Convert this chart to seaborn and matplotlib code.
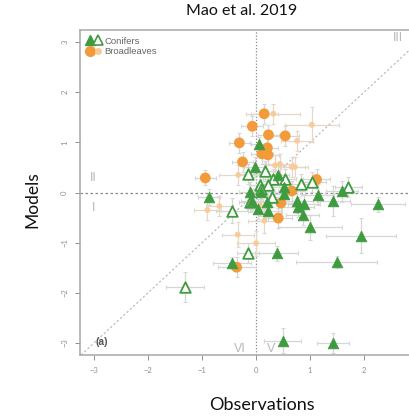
import matplotlib
matplotlib.use("Agg")
import matplotlib.pyplot as plt
import seaborn as sns
import numpy as np
import pandas as pd
from matplotlib.legend_handler import HandlerTuple
from matplotlib.lines import Line2D

# ---------------- data ----------------
con_f_x = [0.06, -0.02, -0.87, 1.14, 1.59, 1.43, 2.25, 0.86, 1.00, 1.94, 0.38, 1.49, -0.44, 0.49, 1.42,
           0.41, -0.11, 0.10, 0.51, 0.20, 0.75, 0.04, 0.23, 0.78, 0.89, 0.51, -0.08]
con_f_y = [0.96, 0.51, -0.09, -0.04, 0.02, -0.17, -0.23, -0.44, -0.69, -0.86, -1.21, -1.38, -1.41, -2.96, -3.00,
           0.34, 0.01, 0.01, -0.03, -0.19, -0.16, -0.33, -0.36, -0.29, -0.23, 0.11, -0.16]
con_f_xe = [0.15, 0.20, 0.20, 0.30, 0.30, 0.30, 0.50, 0.30, 0.60, 0.65, 0.40, 0.75, 0.35, 0.35, 0.30,
            0.20, 0.20, 0.25, 0.25, 0.20, 0.30, 0.20, 0.25, 0.30, 0.30, 0.25, 0.20]
con_f_ye = [0.15, 0.20, 0.15, 0.20, 0.20, 0.30, 0.15, 0.20, 0.25, 0.35, 0.15, 0.12, 0.12, 0.25, 0.20,
            0.20, 0.20, 0.20, 0.20, 0.20, 0.25, 0.20, 0.20, 0.20, 0.20, 0.20, 0.20]

con_o_x = [-0.15, 0.17, 0.83, 1.04, 1.71, 0.07, 0.32, -0.45, -0.15, -1.31, 0.54, 0.23, -0.11, 0.29, 0.10]
con_o_y = [0.37, 0.43, 0.17, 0.21, 0.11, 0.14, 0.27, -0.36, -1.21, -1.89, 0.27, 0.14, -0.19, -0.09, 0.07]
con_o_xe = [0.20, 0.20, 0.25, 0.25, 0.25, 0.20, 0.20, 0.30, 0.20, 0.35, 0.20, 0.20, 0.20, 0.20, 0.20]
con_o_ye = [0.20, 0.20, 0.20, 0.20, 0.20, 0.20, 0.20, 0.25, 0.20, 0.30, 0.20, 0.20, 0.20, 0.20, 0.20]

brd_b_x = [0.15, -0.07, 0.23, 0.54, -0.31, 0.21, 0.11, 0.22, -0.25, -0.94, 1.12, 0.66, 0.46, 0.41, -0.36]
brd_b_y = [1.57, 1.32, 1.15, 1.13, 0.99, 0.89, 0.77, 0.75, 0.61, 0.29, 0.26, 0.03, -0.21, -0.51, -1.49]
brd_b_xe = [0.25, 0.20, 0.20, 0.25, 0.20, 0.20, 0.20, 0.20, 0.20, 0.20, 0.25, 0.25, 0.20, 0.25, 0.35]
brd_b_ye = [0.20, 0.20, 0.20, 0.20, 0.20, 0.20, 0.20, 0.20, 0.20, 0.15, 0.20, 0.20, 0.20, 0.20, 0.20]

brd_s_x = [0.32, 1.03, 0.76, 0.44, 0.66, -0.33, -0.68, -0.90, 0.15, -0.34, 0.00, 0.07, 0.72, 0.35]
brd_s_y = [1.57, 1.35, 1.03, 0.57, 0.51, 0.35, -0.27, -0.35, -0.56, -0.84, -1.01, -0.26, 0.51, 0.54]
brd_s_xe = [0.50, 0.50, 0.30, 0.25, 0.25, 0.35, 0.25, 0.25, 0.30, 0.30, 0.35, 0.20, 0.25, 0.20]
brd_s_ye = [0.20, 0.35, 0.20, 0.20, 0.20, 0.20, 0.20, 0.20, 0.25, 0.25, 0.25, 0.20, 0.20, 0.20]

x_ticks = [-3, -2, -1, 0, 1, 2]
y_ticks = [-3, -2, -1, 0, 1, 2, 3]
quadrant_labels = ["II", "I", "VI", "V", "III"]
quadrant_pos = [(-3.01, 0.29), (-3.01, -0.31), (-0.30, -3.13), (0.27, -3.13), (2.62, 3.09)]

# ---------------- style ----------------
sns.set_theme(style="white")
plt.rcParams['font.family'] = ['Lato', 'DejaVu Sans']

GREEN = "#3f9b3f"
ORANGE = "#f39a3a"
LORANGE = "#f8c994"
EGRAY = "#d6d6d6"
AXGRAY = "#a8a8a8"

fig = plt.figure(figsize=(4.10, 4.16), dpi=100)
ax = fig.add_axes([80/410, 61/416, 1 - 80/410, (355 - 30)/416])
ax.set_xlim(-3.26, 2.85)
ax.set_ylim(-3.24, 3.24)

# reference lines
ax.plot([-3.3, 3.0], [-3.3, 3.0], ls=(0, (2, 2)), color="#b5b5b5", lw=0.8, zorder=1)
ax.axhline(0, ls=(0, (2, 2)), color="#8a8a8a", lw=0.9, zorder=1)
ax.axvline(0, ls=(0, (1, 1.5)), color="#8a8a8a", lw=0.9, zorder=1)

# error bars
for xs, ys, xe, ye, c in [(con_f_x, con_f_y, con_f_xe, con_f_ye, EGRAY),
                          (con_o_x, con_o_y, con_o_xe, con_o_ye, EGRAY),
                          (brd_b_x, brd_b_y, brd_b_xe, brd_b_ye, EGRAY),
                          (brd_s_x, brd_s_y, brd_s_xe, brd_s_ye, "#e6d8c8")]:
    ax.errorbar(xs, ys, xerr=xe, yerr=ye, fmt="none", ecolor=c, elinewidth=0.9,
                capsize=1.2, capthick=0.8, zorder=2)

df_cf = pd.DataFrame({"x": con_f_x, "y": con_f_y})
df_co = pd.DataFrame({"x": con_o_x, "y": con_o_y})
df_bb = pd.DataFrame({"x": brd_b_x, "y": brd_b_y})
df_bs = pd.DataFrame({"x": brd_s_x, "y": brd_s_y})

sns.scatterplot(data=df_bs, x="x", y="y", ax=ax, color=LORANGE, s=18, marker="o",
                edgecolor="none", alpha=0.9, zorder=3, legend=False)
sns.scatterplot(data=df_bb, x="x", y="y", ax=ax, color=ORANGE, s=60, marker="o",
                edgecolor="none", zorder=4, legend=False)
sns.scatterplot(data=df_co, x="x", y="y", ax=ax, marker="^", s=58, facecolor="white",
                edgecolor=GREEN, linewidth=1.3, zorder=5, legend=False)
sns.scatterplot(data=df_cf, x="x", y="y", ax=ax, marker="^", s=58, color=GREEN,
                edgecolor=GREEN, linewidth=0.6, zorder=6, legend=False)

# axes styling
ax.set_xticks(x_ticks)
ax.set_yticks(y_ticks)
ax.set_xticklabels([str(v).replace("-", "\u2212") for v in x_ticks])
ax.set_yticklabels([str(v).replace("-", "\u2212") for v in y_ticks], rotation=90, va="center")
ax.tick_params(axis="both", which="both", direction="out", length=3.5, width=0.7,
               colors="#8f8f8f", labelsize=5.5, pad=5, left=True, bottom=True)
for side in ["left", "bottom", "top"]:
    ax.spines[side].set_color(AXGRAY)
    ax.spines[side].set_linewidth(1.1)
ax.spines["right"].set_visible(False)
ax.set_xlabel("")
ax.set_ylabel("")

for lab, (px, py) in zip(quadrant_labels, quadrant_pos):
    ax.text(px, py, lab, color="#b8b8b8", fontsize=9, ha="center", va="center",
            family=["Liberation Sans", "DejaVu Sans"])
ax.text(-2.86, -2.98, "(a)", color="#555555", fontsize=7.5, fontweight="bold",
        ha="center", va="center", family=["Liberation Sans", "DejaVu Sans"])

# legend
h_cf = Line2D([], [], marker="^", ls="none", color=GREEN, markersize=7)
h_co = Line2D([], [], marker="^", ls="none", markerfacecolor="white", markeredgecolor=GREEN,
              markeredgewidth=1.2, markersize=7)
h_bb = Line2D([], [], marker="o", ls="none", color=ORANGE, markersize=7)
h_bs = Line2D([], [], marker="o", ls="none", color=LORANGE, markersize=4)
leg = ax.legend([(h_cf, h_co), (h_bb, h_bs)], ["Conifers", "Broadleaves"],
                handler_map={tuple: HandlerTuple(ndivide=None, pad=0.1)},
                loc="upper left", bbox_to_anchor=(0.0, 1.0), frameon=False,
                fontsize=6.8, handlelength=1.6, handletextpad=0.3, labelspacing=0.15,
                borderaxespad=0.3)
for t in leg.get_texts():
    t.set_color("#666666")
    t.set_family(["Liberation Sans", "DejaVu Sans"])

# titles
fig.text(242/410, 1 - 11/416, "Mao et al. 2019", ha="center", va="center", fontsize=11.5, color="#111111")
fig.text(262/410, 1 - 405/416, "Observations", ha="center", va="center", fontsize=13, color="#111111")
fig.text(32/410, 1 - 200/416, "Models", ha="center", va="center", fontsize=12.5, rotation=90, color="#111111")

fig.savefig("out.png", dpi=100)
